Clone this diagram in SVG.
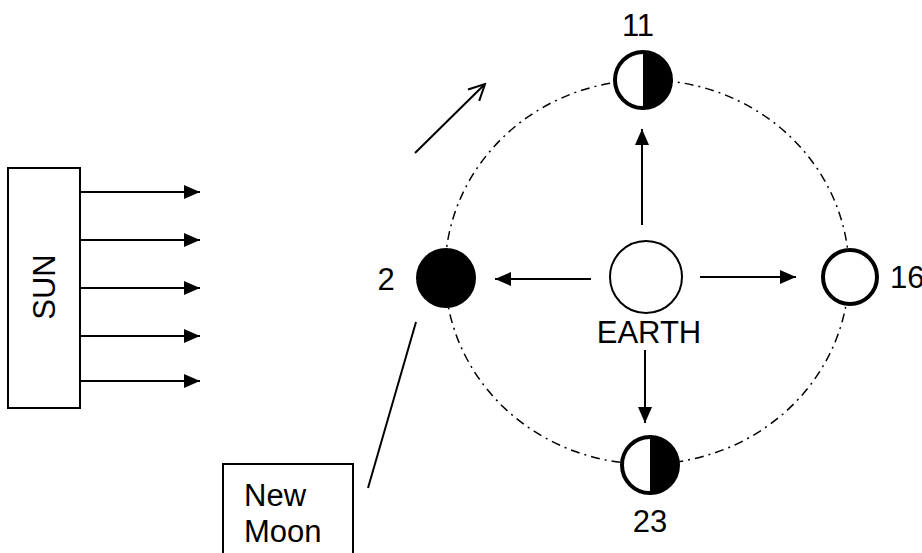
<svg xmlns="http://www.w3.org/2000/svg" width="922" height="553" viewBox="0 0 922 553">
<style>
text{font-family:"Liberation Sans",Arial,sans-serif;font-size:31px;fill:#000}
.ln{stroke:#000;stroke-width:2;fill:none}
.orbit{stroke:#000;stroke-width:1.5;fill:none;stroke-dasharray:9 5 2 5}
.moon{stroke:#000;stroke-width:4}
</style>
<defs>
<marker id="ah" viewBox="0 0 16 14" refX="16" refY="7" markerWidth="16" markerHeight="14" markerUnits="userSpaceOnUse" orient="auto">
<path d="M0,0 L16,7 L0,14 Z" fill="#000"/>
</marker>
<marker id="oa" viewBox="0 0 20 20" refX="18" refY="10" markerWidth="20" markerHeight="20" markerUnits="userSpaceOnUse" orient="auto">
<path d="M2,2 L18,10 L2,18" fill="none" stroke="#000" stroke-width="2"/>
</marker>
</defs>
<g id="orbit"><ellipse class="orbit" cx="647" cy="272" rx="202" ry="192"/></g>
<g id="sun">
<rect x="8" y="168" width="72" height="240" fill="#fff" stroke="#000" stroke-width="2"/>
<text transform="translate(55,287) rotate(-90)" text-anchor="middle">SUN</text>
</g>
<g id="earth">
<circle cx="646" cy="277" r="36" fill="#fff" stroke="#000" stroke-width="2"/>
<text x="649" y="343" text-anchor="middle">EARTH</text>
</g>
<g id="moon11">
<circle class="moon" cx="643" cy="80" r="28" fill="#fff"/>
<path d="M643,52 A28,28 0 0 1 643,108 Z" fill="#000"/>
<text x="638" y="36" text-anchor="middle">11</text>
</g>
<g id="moon2">
<circle class="moon" cx="446" cy="278" r="28" fill="#000"/>
<text x="386" y="290" text-anchor="middle">2</text>
</g>
<g id="moon16">
<circle class="moon" cx="850" cy="277" r="27" fill="#fff"/>
<text x="890" y="288">16</text>
</g>
<g id="moon23">
<circle class="moon" cx="650" cy="465" r="28" fill="#fff"/>
<path d="M650,437 A28,28 0 0 1 650,493 Z" fill="#000"/>
<text x="650" y="532" text-anchor="middle">23</text>
</g>
<g id="newmoon">
<rect x="223" y="464" width="130" height="100" fill="#fff" stroke="#000" stroke-width="2"/>
<text x="244" y="506">New</text>
<text x="244" y="542">Moon</text>
</g>
<g id="connectors">
<line class="ln" x1="80" y1="192" x2="200" y2="192" marker-end="url(#ah)"/>
<line class="ln" x1="80" y1="240" x2="200" y2="240" marker-end="url(#ah)"/>
<line class="ln" x1="80" y1="288" x2="200" y2="288" marker-end="url(#ah)"/>
<line class="ln" x1="80" y1="336" x2="200" y2="336" marker-end="url(#ah)"/>
<line class="ln" x1="80" y1="381" x2="200" y2="381" marker-end="url(#ah)"/>
<line class="ln" x1="642" y1="225" x2="642" y2="129" marker-end="url(#ah)"/>
<line class="ln" x1="591" y1="279" x2="495" y2="279" marker-end="url(#ah)"/>
<line class="ln" x1="700" y1="277" x2="796" y2="277" marker-end="url(#ah)"/>
<line class="ln" x1="645" y1="350" x2="645" y2="423" marker-end="url(#ah)"/>
<line class="ln" x1="415" y1="153" x2="485" y2="84" marker-end="url(#oa)"/>
<line class="ln" x1="416" y1="322" x2="368" y2="488"/>
</g>
</svg>
